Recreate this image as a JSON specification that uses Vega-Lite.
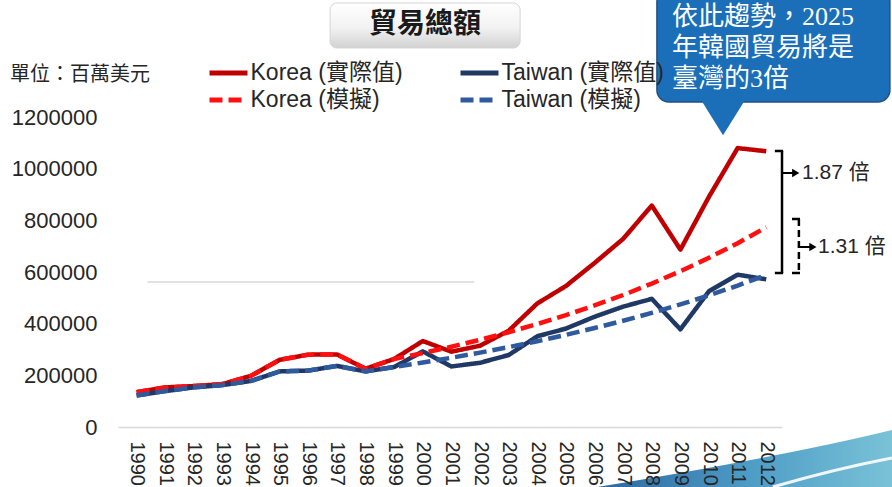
{
  "$schema": "https://vega.github.io/schema/vega-lite/v6.json",
  "width": 664,
  "height": 310,
  "autosize": {"type": "none"},
  "padding": {"left": 118, "top": 117, "right": 110, "bottom": 60},
  "background": "white",
  "config": {
    "view": {"stroke": null},
    "font": "Liberation Sans, Noto Sans CJK TC, sans-serif",
    "axis": {"zindex": 1, "ticks": false, "grid": false, "labelColor": "#262626"},
    "axisX": {"labelAngle": 90, "labelFontSize": 20, "domainColor": "#d9d9d9", "domainWidth": 1.5, "labelPadding": 14, "labelOverlap": false, "labelFlush": false, "labelBound": false, "tickCount": 23},
    "axisY": {"labelFontSize": 22, "domain": false, "labelPadding": 21, "labelOverlap": false}
  },
  "datasets": {
    "trade": [
      {"year": 1990, "series": "Korea (實際值)", "value": 134859},
      {"year": 1991, "series": "Korea (實際值)", "value": 153392},
      {"year": 1992, "series": "Korea (實際值)", "value": 158414},
      {"year": 1993, "series": "Korea (實際值)", "value": 166041},
      {"year": 1994, "series": "Korea (實際值)", "value": 198364},
      {"year": 1995, "series": "Korea (實際值)", "value": 260177},
      {"year": 1996, "series": "Korea (實際值)", "value": 280063},
      {"year": 1997, "series": "Korea (實際值)", "value": 280788},
      {"year": 1998, "series": "Korea (實際值)", "value": 225595},
      {"year": 1999, "series": "Korea (實際值)", "value": 263444},
      {"year": 2000, "series": "Korea (實際值)", "value": 332749},
      {"year": 2001, "series": "Korea (實際值)", "value": 291537},
      {"year": 2002, "series": "Korea (實際值)", "value": 314597},
      {"year": 2003, "series": "Korea (實際值)", "value": 372643},
      {"year": 2004, "series": "Korea (實際值)", "value": 478307},
      {"year": 2005, "series": "Korea (實際值)", "value": 545657},
      {"year": 2006, "series": "Korea (實際值)", "value": 634848},
      {"year": 2007, "series": "Korea (實際值)", "value": 728335},
      {"year": 2008, "series": "Korea (實際值)", "value": 857282},
      {"year": 2009, "series": "Korea (實際值)", "value": 686619},
      {"year": 2010, "series": "Korea (實際值)", "value": 891596},
      {"year": 2011, "series": "Korea (實際值)", "value": 1079627},
      {"year": 2012, "series": "Korea (實際值)", "value": 1067454},
      {"year": 1990, "series": "Taiwan (實際值)", "value": 121930},
      {"year": 1991, "series": "Taiwan (實際值)", "value": 139039},
      {"year": 1992, "series": "Taiwan (實際值)", "value": 153470},
      {"year": 1993, "series": "Taiwan (實際值)", "value": 162154},
      {"year": 1994, "series": "Taiwan (實際值)", "value": 178384},
      {"year": 1995, "series": "Taiwan (實際值)", "value": 215213},
      {"year": 1996, "series": "Taiwan (實際值)", "value": 218307},
      {"year": 1997, "series": "Taiwan (實際值)", "value": 236500},
      {"year": 1998, "series": "Taiwan (實際值)", "value": 215229},
      {"year": 1999, "series": "Taiwan (實際值)", "value": 232299},
      {"year": 2000, "series": "Taiwan (實際值)", "value": 292677},
      {"year": 2001, "series": "Taiwan (實際值)", "value": 234280},
      {"year": 2002, "series": "Taiwan (實際值)", "value": 248551},
      {"year": 2003, "series": "Taiwan (實際值)", "value": 278611},
      {"year": 2004, "series": "Taiwan (實際值)", "value": 351145},
      {"year": 2005, "series": "Taiwan (實際值)", "value": 381046},
      {"year": 2006, "series": "Taiwan (實際值)", "value": 426715},
      {"year": 2007, "series": "Taiwan (實際值)", "value": 465929},
      {"year": 2008, "series": "Taiwan (實際值)", "value": 496077},
      {"year": 2009, "series": "Taiwan (實際值)", "value": 378046},
      {"year": 2010, "series": "Taiwan (實際值)", "value": 525837},
      {"year": 2011, "series": "Taiwan (實際值)", "value": 589704},
      {"year": 2012, "series": "Taiwan (實際值)", "value": 571596},
      {"year": 1990, "series": "Korea (模擬)", "value": 134859},
      {"year": 1991, "series": "Korea (模擬)", "value": 153392},
      {"year": 1992, "series": "Korea (模擬)", "value": 158414},
      {"year": 1993, "series": "Korea (模擬)", "value": 166041},
      {"year": 1994, "series": "Korea (模擬)", "value": 198364},
      {"year": 1995, "series": "Korea (模擬)", "value": 260177},
      {"year": 1996, "series": "Korea (模擬)", "value": 280063},
      {"year": 1997, "series": "Korea (模擬)", "value": 280788},
      {"year": 1998, "series": "Korea (模擬)", "value": 225595},
      {"year": 1999, "series": "Korea (模擬)", "value": 263444},
      {"year": 2000, "series": "Korea (模擬)", "value": 286100},
      {"year": 2001, "series": "Korea (模擬)", "value": 310900},
      {"year": 2002, "series": "Korea (模擬)", "value": 337700},
      {"year": 2003, "series": "Korea (模擬)", "value": 366900},
      {"year": 2004, "series": "Korea (模擬)", "value": 398600},
      {"year": 2005, "series": "Korea (模擬)", "value": 433000},
      {"year": 2006, "series": "Korea (模擬)", "value": 470400},
      {"year": 2007, "series": "Korea (模擬)", "value": 511000},
      {"year": 2008, "series": "Korea (模擬)", "value": 555100},
      {"year": 2009, "series": "Korea (模擬)", "value": 603100},
      {"year": 2010, "series": "Korea (模擬)", "value": 655100},
      {"year": 2011, "series": "Korea (模擬)", "value": 711700},
      {"year": 2012, "series": "Korea (模擬)", "value": 773100},
      {"year": 1990, "series": "Taiwan (模擬)", "value": 121930},
      {"year": 1991, "series": "Taiwan (模擬)", "value": 139039},
      {"year": 1992, "series": "Taiwan (模擬)", "value": 153470},
      {"year": 1993, "series": "Taiwan (模擬)", "value": 162154},
      {"year": 1994, "series": "Taiwan (模擬)", "value": 178384},
      {"year": 1995, "series": "Taiwan (模擬)", "value": 215213},
      {"year": 1996, "series": "Taiwan (模擬)", "value": 218307},
      {"year": 1997, "series": "Taiwan (模擬)", "value": 236500},
      {"year": 1998, "series": "Taiwan (模擬)", "value": 215229},
      {"year": 1999, "series": "Taiwan (模擬)", "value": 232299},
      {"year": 2000, "series": "Taiwan (模擬)", "value": 249500},
      {"year": 2001, "series": "Taiwan (模擬)", "value": 268000},
      {"year": 2002, "series": "Taiwan (模擬)", "value": 287800},
      {"year": 2003, "series": "Taiwan (模擬)", "value": 309100},
      {"year": 2004, "series": "Taiwan (模擬)", "value": 332000},
      {"year": 2005, "series": "Taiwan (模擬)", "value": 356600},
      {"year": 2006, "series": "Taiwan (模擬)", "value": 383000},
      {"year": 2007, "series": "Taiwan (模擬)", "value": 411400},
      {"year": 2008, "series": "Taiwan (模擬)", "value": 441800},
      {"year": 2009, "series": "Taiwan (模擬)", "value": 474500},
      {"year": 2010, "series": "Taiwan (模擬)", "value": 509700},
      {"year": 2011, "series": "Taiwan (模擬)", "value": 547400},
      {"year": 2012, "series": "Taiwan (模擬)", "value": 588000}
    ]
  },
  "layer": [
    {
      "transform": [{"filter": "indexof(datum.series, '實際值') >= 0"}],
      "mark": {"type": "line", "strokeWidth": 4.5, "strokeJoin": "round"},
      "encoding": {
        "x": {"field": "year", "type": "quantitative", "scale": {"domain": [1989.35, 2012.55], "nice": false, "zero": false},
          "axis": {"values": [1990,1991,1992,1993,1994,1995,1996,1997,1998,1999,2000,2001,2002,2003,2004,2005,2006,2007,2008,2009,2010,2011,2012], "tickCount": 23, "format": "d", "title": null, "labelOverlap": false, "zindex": 2}},
        "y": {"field": "value", "type": "quantitative", "scale": {"domain": [0, 1200000], "nice": false, "zero": false},
          "axis": {"values": [0,200000,400000,600000,800000,1000000,1200000], "format": "d", "title": null, "zindex": 2}},
        "color": {"field": "series", "type": "nominal",
          "scale": {"domain": ["Korea (實際值)", "Korea (模擬)", "Taiwan (實際值)", "Taiwan (模擬)"], "range": ["#C00000", "#FF1010", "#1F3864", "#2F5A9E"]},
          "legend": {"title": null, "orient": "none", "legendX": 98.5, "legendY": -56, "columns": 2, "symbolType": "M-2,0L2,0", "symbolSize": 361, "symbolStrokeWidth": 5, "labelFontSize": 23, "labelColor": "#262626", "labelOffset": 10, "columnPadding": 47, "rowPadding": 3, "padding": 0, "labelLimit": 300}},
        "strokeDash": {"field": "series", "type": "nominal",
          "scale": {"domain": ["Korea (實際值)", "Korea (模擬)", "Taiwan (實際值)", "Taiwan (模擬)"], "range": [[1,0],[13,6],[1,0],[13,6]]},
          "legend": {"title": null, "orient": "none", "legendX": 98.5, "legendY": -56, "columns": 2, "symbolType": "M-2,0L2,0", "symbolSize": 361, "symbolStrokeWidth": 5, "labelFontSize": 23, "labelColor": "#262626", "labelOffset": 10, "columnPadding": 47, "rowPadding": 3, "padding": 0, "labelLimit": 300}}
      }
    },
    {
      "transform": [{"filter": "indexof(datum.series, '模擬') >= 0"}],
      "mark": {"type": "line", "strokeWidth": 4.5},
      "encoding": {
        "x": {"field": "year", "type": "quantitative"},
        "y": {"field": "value", "type": "quantitative"},
        "color": {"field": "series", "type": "nominal"},
        "strokeDash": {"field": "series", "type": "nominal"}
      }
    },
    {
      "data": {"values": [{}]},
      "mark": {"type": "point", "shape": "M-1,0.22L-1,0.185Q0.3,-0.03 1,-0.205L1,0.22Z", "filled": true, "opacity": 1, "strokeWidth": 0, "size": 91809,
        "fill": {"gradient": "linear", "x1": 0, "y1": 0, "x2": 1, "y2": 0, "stops": [{"offset": 0, "color": "#2C66A0"}, {"offset": 0.5, "color": "#4D9CC6"}, {"offset": 1, "color": "#7CC4D8"}]}},
      "encoding": {
        "x": {"datum": 2011.38, "type": "quantitative"},
        "y": {"datum": -123871, "type": "quantitative"}
      }
    },
    {
      "data": {"values": [{}]},
      "mark": {"type": "point", "shape": "M-1,0.244Q0,-0.05 1,-0.244", "filled": false, "opacity": 0.9, "stroke": "white", "strokeWidth": 3, "size": 14161},
      "encoding": {
        "x": {"datum": 2014.31, "type": "quantitative"},
        "y": {"datum": -176129, "type": "quantitative"}
      }
    },
    {
      "data": {"values": [{}]},
      "mark": {"type": "rule", "color": "#d9d9d9", "strokeWidth": 1.5},
      "encoding": {
        "x": {"datum": 1990.38, "type": "quantitative"},
        "x2": {"datum": 2001.8},
        "y": {"datum": 561290, "type": "quantitative"}
      }
    },
    {
      "data": {"values": [{}]},
      "mark": {"type": "rect", "cornerRadius": 7, "stroke": "#d4d4d4", "strokeWidth": 1,
        "fill": {"gradient": "linear", "x1": 0, "y1": 0, "x2": 0, "y2": 1, "stops": [{"offset": 0, "color": "#ffffff"}, {"offset": 0.55, "color": "#f2f2f2"}, {"offset": 1, "color": "#d2d2d2"}]}},
      "encoding": {
        "x": {"datum": 1996.76, "type": "quantitative"},
        "x2": {"datum": 2003.4},
        "y": {"datum": 1641291, "type": "quantitative"},
        "y2": {"datum": 1467098}
      }
    },
    {
      "data": {"values": [{}]},
      "mark": {"type": "text", "text": "貿易總額", "font": "Noto Sans CJK TC", "fontSize": 28, "fontWeight": "bold", "color": "#1a1a1a", "align": "center", "baseline": "middle"},
      "encoding": {
        "x": {"datum": 2000.08, "type": "quantitative"},
        "y": {"datum": 1556130, "type": "quantitative"}
      }
    },
    {
      "data": {"values": [{}]},
      "mark": {"type": "text", "text": "單位：百萬美元", "font": "Noto Sans CJK TC", "fontSize": 20, "color": "#262626", "align": "left", "baseline": "middle"},
      "encoding": {
        "x": {"datum": 1985.58, "type": "quantitative"},
        "y": {"datum": 1362581, "type": "quantitative"}
      }
    },
    {
      "data": {"values": [{}]},
      "mark": {"type": "rect", "cornerRadius": 12, "fill": "#1A6FB8", "stroke": "#24507F", "strokeWidth": 1.5},
      "encoding": {
        "x": {"datum": 2008.18, "type": "quantitative"},
        "x2": {"datum": 2016.32},
        "y": {"datum": 1691614, "type": "quantitative"},
        "y2": {"datum": 1258065}
      }
    },
    {
      "data": {"values": [{}]},
      "mark": {"type": "point", "shape": "M-1,-0.8L1,-0.8L0,0.8Z", "filled": true, "opacity": 1, "color": "#1A6FB8", "strokeWidth": 0, "size": 1936},
      "encoding": {
        "x": {"datum": 2010.49, "type": "quantitative"},
        "y": {"datum": 1197678, "type": "quantitative"}
      }
    },
    {
      "data": {"values": [{}]},
      "mark": {"type": "text", "text": "依此趨勢，2025\n年韓國貿易將是\n臺灣的3倍", "lineBreak": "\n", "lineHeight": 31, "font": "Liberation Serif, Noto Sans CJK TC", "fontSize": 26, "color": "white", "align": "left", "baseline": "top"},
      "encoding": {
        "x": {"datum": 2008.71, "type": "quantitative"},
        "y": {"datum": 1637420, "type": "quantitative"}
      }
    },
    {
      "data": {"values": [{}]},
      "mark": {"type": "rule", "color": "black", "strokeWidth": 2.5},
      "encoding": {
        "x": {"datum": 2012.55, "type": "quantitative"},
        "y": {"datum": 1068388, "type": "quantitative"},
        "y2": {"datum": 596129}
      }
    },
    {
      "data": {"values": [{}]},
      "mark": {"type": "rule", "color": "black", "strokeWidth": 2.5},
      "encoding": {
        "x": {"datum": 2012.3, "type": "quantitative"},
        "x2": {"datum": 2012.59},
        "y": {"datum": 1068388, "type": "quantitative"}
      }
    },
    {
      "data": {"values": [{}]},
      "mark": {"type": "rule", "color": "black", "strokeWidth": 2.5},
      "encoding": {
        "x": {"datum": 2012.3, "type": "quantitative"},
        "x2": {"datum": 2012.59},
        "y": {"datum": 596129, "type": "quantitative"}
      }
    },
    {
      "data": {"values": [{}]},
      "mark": {"type": "rule", "color": "black", "strokeWidth": 2},
      "encoding": {
        "x": {"datum": 2012.55, "type": "quantitative"},
        "x2": {"datum": 2012.98},
        "y": {"datum": 983226, "type": "quantitative"}
      }
    },
    {
      "data": {"values": [{}]},
      "mark": {"type": "point", "shape": "triangle-right", "filled": true, "opacity": 1, "color": "black", "size": 70},
      "encoding": {
        "x": {"datum": 2013.03, "type": "quantitative"},
        "y": {"datum": 983226, "type": "quantitative"}
      }
    },
    {
      "data": {"values": [{}]},
      "mark": {"type": "text", "text": "1.87 倍", "fontSize": 21, "color": "#262626", "align": "left", "baseline": "middle"},
      "encoding": {
        "x": {"datum": 2013.25, "type": "quantitative"},
        "y": {"datum": 983226, "type": "quantitative"}
      }
    },
    {
      "data": {"values": [{}]},
      "mark": {"type": "rule", "color": "black", "strokeWidth": 2.5, "strokeDash": [7, 4]},
      "encoding": {
        "x": {"datum": 2013.14, "type": "quantitative"},
        "y": {"datum": 805162, "type": "quantitative"},
        "y2": {"datum": 596129}
      }
    },
    {
      "data": {"values": [{}]},
      "mark": {"type": "rule", "color": "black", "strokeWidth": 2.5},
      "encoding": {
        "x": {"datum": 2012.9, "type": "quantitative"},
        "x2": {"datum": 2013.18},
        "y": {"datum": 805162, "type": "quantitative"}
      }
    },
    {
      "data": {"values": [{}]},
      "mark": {"type": "rule", "color": "black", "strokeWidth": 2.5},
      "encoding": {
        "x": {"datum": 2012.9, "type": "quantitative"},
        "x2": {"datum": 2013.18},
        "y": {"datum": 596129, "type": "quantitative"}
      }
    },
    {
      "data": {"values": [{}]},
      "mark": {"type": "rule", "color": "black", "strokeWidth": 2},
      "encoding": {
        "x": {"datum": 2013.14, "type": "quantitative"},
        "x2": {"datum": 2013.58},
        "y": {"datum": 696775, "type": "quantitative"}
      }
    },
    {
      "data": {"values": [{}]},
      "mark": {"type": "point", "shape": "triangle-right", "filled": true, "opacity": 1, "color": "black", "size": 70},
      "encoding": {
        "x": {"datum": 2013.63, "type": "quantitative"},
        "y": {"datum": 696775, "type": "quantitative"}
      }
    },
    {
      "data": {"values": [{}]},
      "mark": {"type": "text", "text": "1.31 倍", "fontSize": 21, "color": "#262626", "align": "left", "baseline": "middle"},
      "encoding": {
        "x": {"datum": 2013.81, "type": "quantitative"},
        "y": {"datum": 696775, "type": "quantitative"}
      }
    }
  ],
  "data": {"name": "trade"}
}
